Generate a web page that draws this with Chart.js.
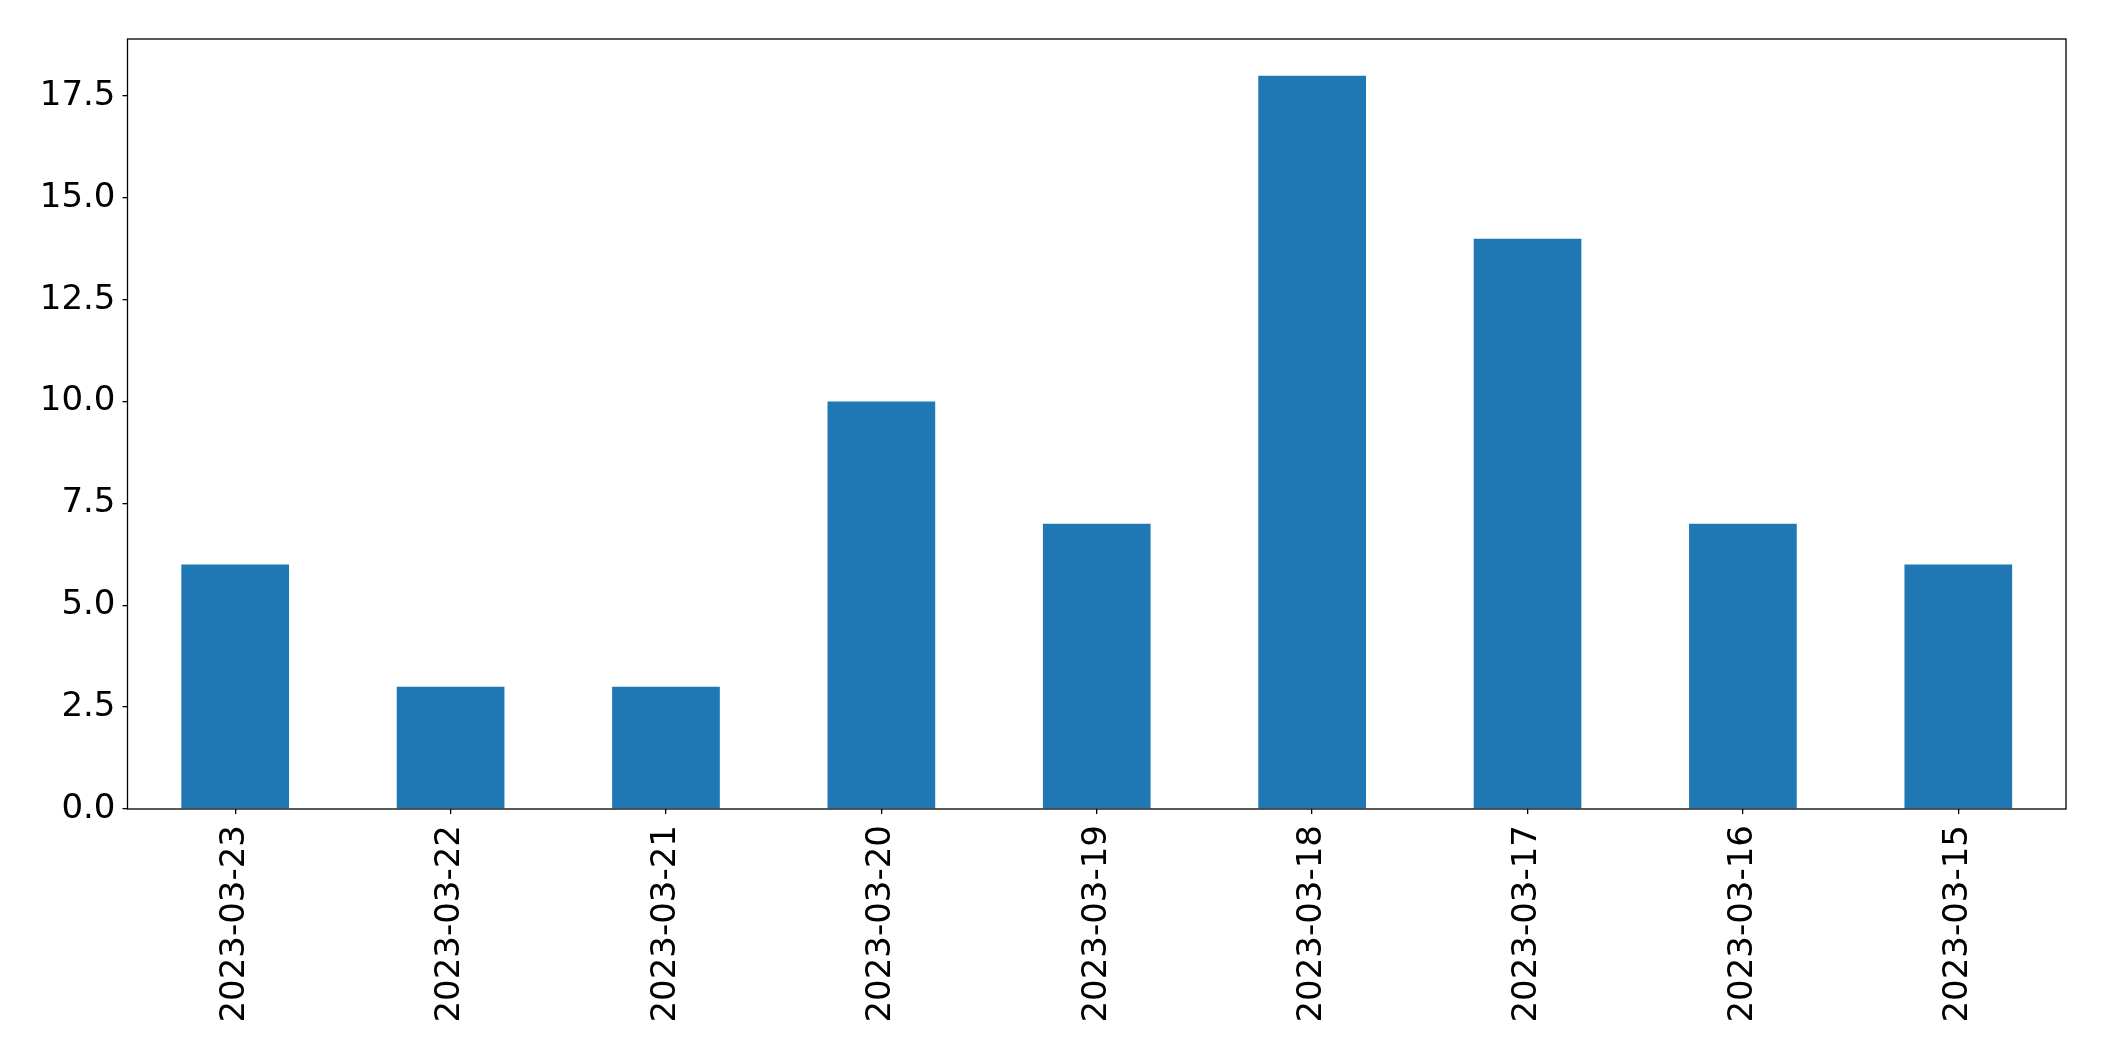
<!DOCTYPE html>
<html>
<head>
<meta charset="utf-8">
<script src="https://cdn.jsdelivr.net/npm/chart.js@4/dist/chart.umd.min.js"></script>
<style>
  body { margin: 0; background: #fff; }
  #wrap { width: 2104px; height: 1061px; }
</style>
</head>
<body>
<div id="wrap"><canvas id="chart"></canvas></div>
<script>
const dates = ['2023-03-23', '2023-03-22', '2023-03-21', '2023-03-20', '2023-03-19',
               '2023-03-18', '2023-03-17', '2023-03-16', '2023-03-15'];
const counts = [6, 3, 3, 10, 7, 18, 14, 7, 6];
const yTicks = [0, 2.5, 5, 7.5, 10, 12.5, 15, 17.5];
const yMax = 18.9;

// marco negro alrededor del area del grafico
const frame = {
    id: 'frame',
    afterDraw(chart) {
        const a = chart.chartArea;
        const ctx = chart.ctx;
        ctx.save();
        ctx.strokeStyle = '#000';
        ctx.lineWidth = 1.3;
        ctx.strokeRect(a.left, a.top, a.right - a.left, a.bottom - a.top);
        ctx.restore();
    }
};

const font = { family: 'DejaVu Sans', size: 34 };

new Chart(document.getElementById('chart'), {
    type: 'bar',
    data: {
        labels: dates,
        datasets: [{
            data: counts,
            backgroundColor: '#1f77b4',
            barPercentage: 0.5,
            categoryPercentage: 1.0
        }]
    },
    options: {
        responsive: true,
        maintainAspectRatio: false,
        animation: false,
        layout: { padding: { top: 39, right: 38, left: 0, bottom: 0 } },
        plugins: { legend: { display: false }, tooltip: { enabled: false } },
        scales: {
            x: {
                offset: true,
                grid: { offset: false, drawOnChartArea: false, tickLength: 5, color: '#000', lineWidth: 1.3 },
                border: { display: false },
                ticks: { color: '#000', font: font, minRotation: 90, maxRotation: 90, padding: 11, autoSkip: false },
                afterFit(scale) { scale.height = 252; }
            },
            y: {
                min: 0,
                max: yMax,
                grid: { drawOnChartArea: false, tickLength: 5, color: '#000', lineWidth: 1.3 },
                border: { display: false },
                ticks: {
                    color: '#000',
                    font: font,
                    padding: 7,
                    callback: v => v.toFixed(1)
                },
                afterBuildTicks(axis) { axis.ticks = yTicks.map(v => ({ value: v })); },
                afterFit(scale) { scale.width = 127.5; }
            }
        }
    },
    plugins: [frame]
});
</script>
</body>
</html>
